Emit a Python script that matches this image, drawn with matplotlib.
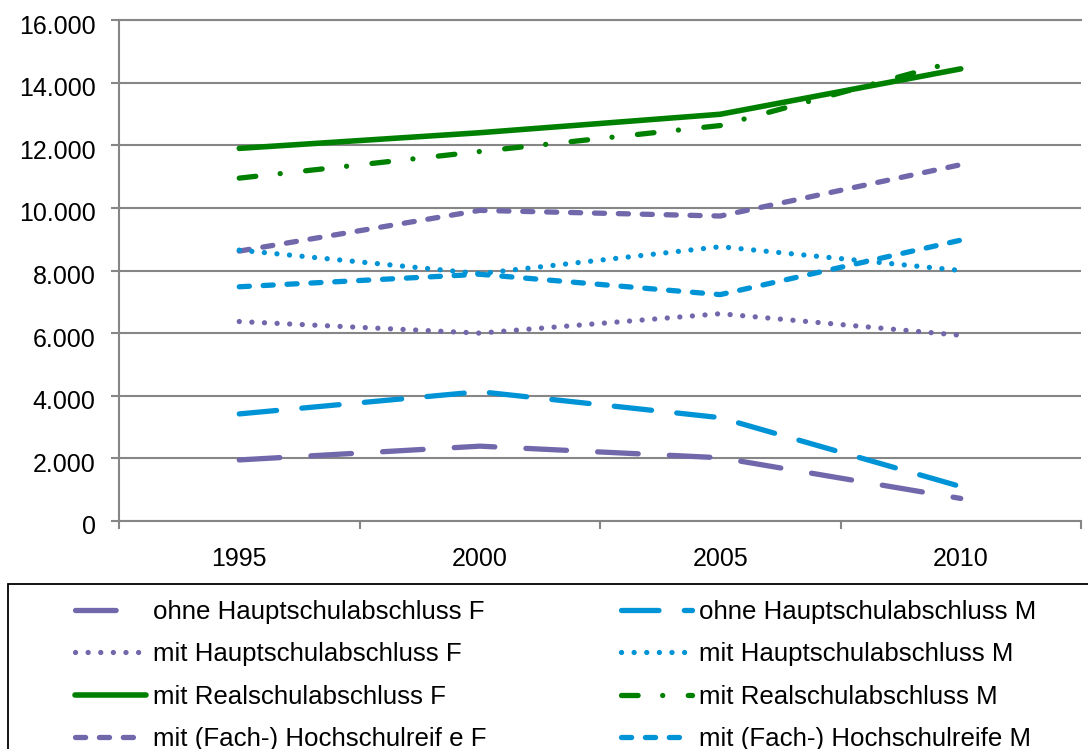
import matplotlib
matplotlib.use("Agg")
import matplotlib.pyplot as plt
from matplotlib.patches import Rectangle
from matplotlib.ticker import FuncFormatter, FixedLocator
from matplotlib.transforms import ScaledTranslation

plt.rcParams["font.family"] = ["Liberation Sans", "DejaVu Sans"]

# Categories and series
years = ["1995", "2000", "2005", "2010"]
ohne_hs_f = [1950, 2390, 2020, 720]
ohne_hs_m = [3420, 4130, 3300, 1100]
mit_hs_f = [6370, 6000, 6620, 5930]
mit_hs_m = [8650, 7900, 8760, 8000]
real_f = [11900, 12400, 12990, 14440]
real_m = [10950, 11800, 12630, 14720]
abi_f = [8620, 9920, 9740, 11380]
abi_m = [7480, 7880, 7230, 8970]

y_ticks = [0, 2000, 4000, 6000, 8000, 10000, 12000, 14000, 16000]

PURPLE = "#7168AC"
BLUE = "#0094D6"
GREEN = "#008000"
GRID = "#868686"

W, H = 1088, 749
fig = plt.figure(figsize=(W / 100, H / 100), dpi=100)
ax = fig.add_axes([119 / W, 1 - 521 / H, (1081 - 119) / W, (521 - 20) / H])

x = list(range(len(years)))
LW = 3.8


def draw(vals, color, dashes=None, lw=LW, label=""):
    kw = dict(color=color, lw=lw, label=label, solid_capstyle="round",
              dash_capstyle="round", solid_joinstyle="round",
              dash_joinstyle="round")
    if dashes is not None:
        kw["dashes"] = dashes
    return ax.plot(x, vals, **kw)[0]


l1 = draw(ohne_hs_f, PURPLE, (7.7, 5.9), label="ohne Hauptschulabschluss F")
l2 = draw(mit_hs_f, PURPLE, (0.01, 2.38), label="mit Hauptschulabschluss F")
l3 = draw(real_f, GREEN, None, lw=4.0, label="mit Realschulabschluss F")
l4 = draw(abi_f, PURPLE, (1.92, 2.61), label="mit (Fach-) Hochschulreif e F")
m1 = draw(ohne_hs_m, BLUE, (7.1, 4.8), label="ohne Hauptschulabschluss M")
m2 = draw(mit_hs_m, BLUE, (0.01, 2.38), label="mit Hauptschulabschluss M")
m3 = draw(real_m, GREEN, (3.15, 4.65, 0.01, 4.84), label="mit Realschulabschluss M")
m4 = draw(abi_m, BLUE, (1.92, 2.61), label="mit (Fach-) Hochschulreife M")

ax.set_xlim(-0.5, len(years) - 0.5)
ax.set_ylim(0, 16000)

# category boundaries carry the tick marks, centres carry the labels
ax.xaxis.set_major_locator(FixedLocator([i - 0.5 for i in range(len(years) + 1)]))
ax.xaxis.set_minor_locator(FixedLocator(x))
ax.set_xticklabels([])
ax.set_xticklabels(years, minor=True)
ax.tick_params(axis="x", which="major", direction="out", length=5.8, width=1.5,
               color=GRID)
ax.tick_params(axis="x", which="minor", length=0, pad=18.8, labelsize=18)

ax.set_yticks(y_ticks)
ax.yaxis.set_major_formatter(FuncFormatter(lambda v, p: f"{int(v):,}".replace(",", ".")))
ax.tick_params(axis="y", direction="out", length=5.8, width=1.5, color=GRID,
               pad=11, labelsize=18)
# value labels sit slightly below their gridlines
shift = ScaledTranslation(0, -4 / 100, fig.dpi_scale_trans)
for tick in ax.yaxis.get_major_ticks():
    tick.label1.set_transform(tick.label1.get_transform() + shift)

ax.yaxis.grid(True, color=GRID, lw=1.5)
ax.set_axisbelow(True)
for side in ["left", "bottom", "top"]:
    ax.spines[side].set_color(GRID)
    ax.spines[side].set_linewidth(1.5)
ax.spines["right"].set_visible(False)

# legend frame
fig.add_artist(Rectangle((8 / W, -0.05), 1.1, (1 - 584 / H) + 0.05,
                         transform=fig.transFigure, fill=False,
                         edgecolor="black", lw=1.3))

leg_kw = dict(loc="upper left", frameon=False, fontsize=18.6, handlelength=2.75,
              handletextpad=0.26, borderpad=0, borderaxespad=0,
              labelspacing=0.71)
fig.legend(handles=[l1, l2, l3, l4], bbox_to_anchor=(75 / W, 1 - 600 / H), **leg_kw)
fig.legend(handles=[m1, m2, m3, m4], bbox_to_anchor=(621 / W, 1 - 600 / H), **leg_kw)

fig.savefig("out.png", dpi=100)
